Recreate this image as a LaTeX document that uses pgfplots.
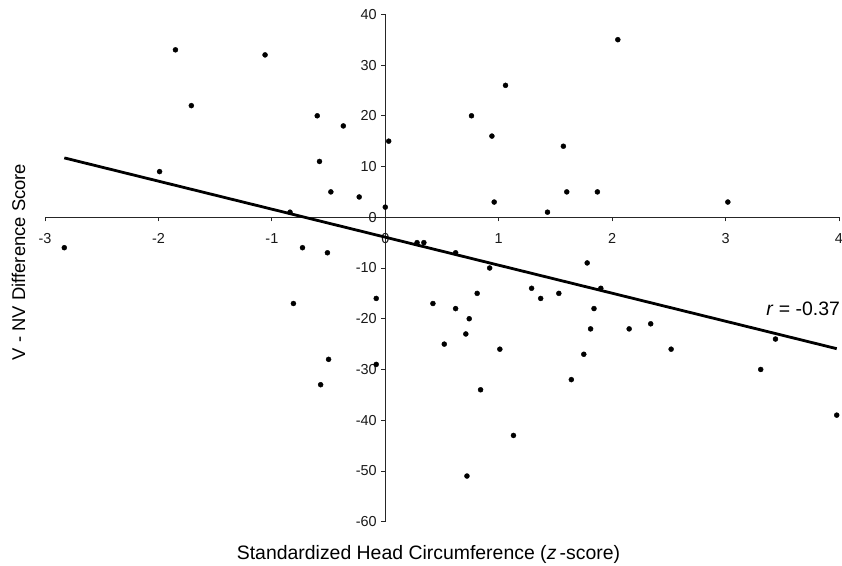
\documentclass[border=0pt]{standalone}
\usepackage{fontspec}
\setmainfont{Liberation Sans}
\usepackage{pgfplots}
\pgfplotsset{compat=1.18}
\begin{document}
\begin{tikzpicture}
\begin{axis}[
  scale only axis,
  width=794bp, height=507.4bp,
  axis lines=middle,
  axis line style={-, color=black!85, line width=0.9bp},
  xmin=-3, xmax=4, ymin=-60, ymax=40,
  enlargelimits=false,
  clip=false,
  xtick={-3,-2,-1,0,1,2,3,4},
  ytick={-60,-50,-40,-30,-20,-10,0,10,20,30,40},
  hide obscured x ticks=false,
  hide obscured y ticks=false,
  tick align=outside,
  major tick length=4bp,
  tick style={color=black!85, line width=0.8bp},
  /pgf/number format/assume math mode=true,
  tick label style={font=\fontsize{14.5}{16}\selectfont, color=black!90},
  xticklabel style={yshift=-9bp},
  yticklabel style={xshift=-1bp},
  every axis x label/.style={at={(axis description cs:0.483,-0.075)}, anchor=base, font=\fontsize{19.5}{22}\selectfont},
  every axis y label/.style={at={(axis description cs:-0.025,0.512)}, rotate=90, anchor=base, font=\fontsize{18.5}{22}\selectfont},
  xlabel={Standardized Head Circumference (\textit{z}\,-score)},
  ylabel={V - NV Difference Score},
]
\addplot[only marks, mark=*, mark size=2.5bp, color=black] coordinates {
(-2.83,-6) (-1.85,33) (-1.06,32) (-1.71,22) (-1.99,9)
(-0.60,20) (-0.37,18) (0.03,15) (-0.58,11) (-0.48,5)
(-0.23,4) (0.00,2) (-0.84,1) (-0.73,-6) (-0.51,-7)
(0.28,-5) (0.34,-5) (0.62,-7) (0.92,-10) (-0.81,-17)
(-0.08,-16) (-0.50,-28) (-0.57,-33) (-0.08,-29) (2.05,35)
(1.06,26) (0.76,20) (0.94,16) (1.57,14) (1.60,5)
(1.87,5) (0.96,3) (1.43,1) (3.02,3) (1.78,-9)
(1.29,-14) (1.90,-14) (0.42,-17) (0.62,-18) (0.81,-15)
(0.74,-20) (0.71,-23) (0.52,-25) (1.01,-26) (1.37,-16)
(1.53,-15) (1.84,-18) (1.81,-22) (2.15,-22) (2.34,-21)
(1.75,-27) (2.52,-26) (1.64,-32) (0.84,-34) (1.13,-43)
(0.72,-51) (3.44,-24) (3.31,-30) (3.98,-39)
};
\addplot[black, line width=2.8bp] coordinates {(-2.83,11.7) (3.98,-25.9)};
\node[anchor=base east, inner sep=0pt, font=\fontsize{19.5}{22}\selectfont] at (axis cs:4.01,-19.3) {\textit{r} = -0.37};
\coordinate (bbl) at (axis description cs:-0.0567,-0.0873);
\coordinate (btr) at (axis description cs:1.0038,1.0282);
\end{axis}
\pgfresetboundingbox
\path[use as bounding box] (bbl) rectangle (btr);
\end{tikzpicture}
\end{document}
